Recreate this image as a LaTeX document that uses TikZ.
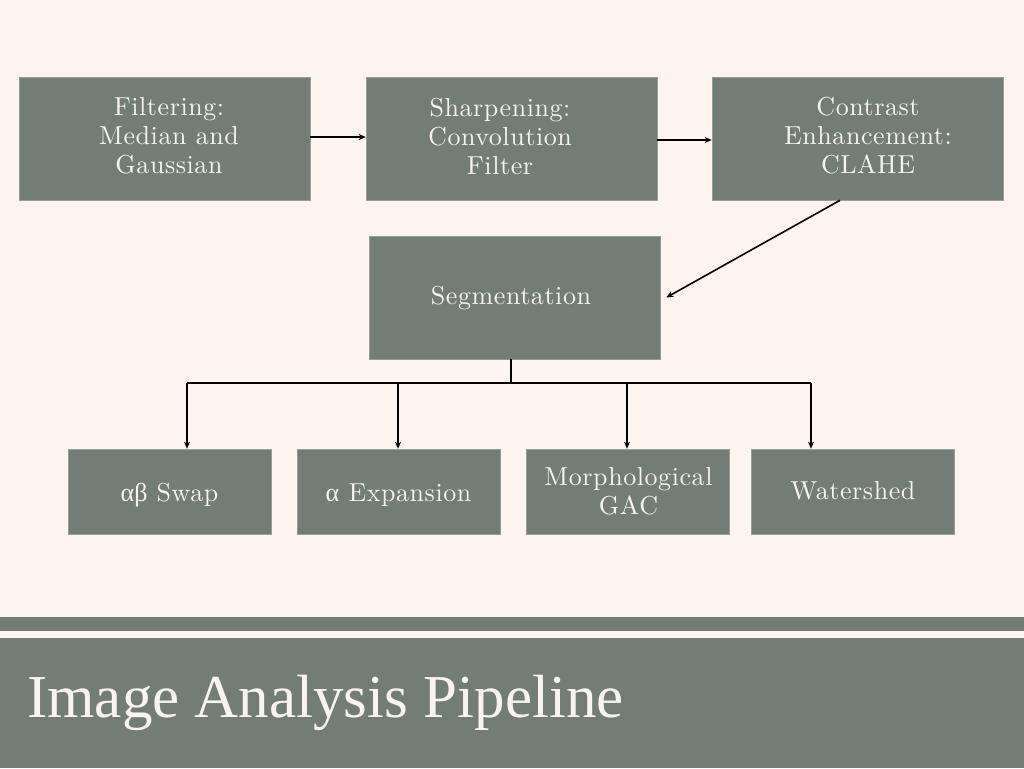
\documentclass[tikz,border=0pt]{standalone}
\usepackage{fontspec}
\newfontfamily\grk{Liberation Serif}
\newfontfamily\titlefont{Liberation Serif}
\newfontfamily\lmspaced{lmroman10-regular.otf}[LetterSpace=2.2]
\usetikzlibrary{arrows.meta}
\definecolor{bg}{RGB}{253,244,240}
\definecolor{boxc}{RGB}{113,125,117}
\definecolor{edgec}{RGB}{150,158,152}
\definecolor{txt}{RGB}{250,243,238}
\newcommand{\boxfont}{\lmspaced\fontsize{26}{29}\selectfont}
\tikzset{
  box/.style={rectangle, fill=boxc, draw=edgec, line width=0.6pt, text=txt, align=center,
    font=\boxfont, inner sep=0pt},
  topbox/.style={box, minimum width=291pt, minimum height=123pt},
  botbox/.style={box, minimum width=203pt, minimum height=85pt},
  lbl/.style={font=\boxfont, text=txt, align=center, inner sep=0pt},
  arr/.style={draw=black, line width=1.6pt, -{Stealth[length=7pt,width=6pt]}},
  ln/.style={draw=black, line width=1.6pt}
}
\begin{document}
\begin{tikzpicture}[x=1pt,y=-1pt]
\fill[bg] (0,0) rectangle (1024,768);
\useasboundingbox (0,0) rectangle (1024,768);
% top row
\node[topbox] (b1) at (164.5,138.5) {};
\node[lbl] (t1) at (169,136) {Filtering:\\Median and\\Gaussian};
\node[topbox] (b2) at (511.5,138.5) {};
\node[lbl] (t2) at (500,136) {Sharpening:\\Convolution\\Filter};
\node[topbox] (b3) at (857.5,138.5) {};
\node[lbl] (t3) at (868,136) {Contrast\\Enhancement:\\CLAHE};
% segmentation
\node[topbox] (seg) at (514.5,297.5) {};
\node[lbl] (tseg) at (511,298) {Segmentation};
% bottom row
\node[botbox] (s1) at (169.5,491.5) {};
\node[lbl] (ts1) at (169.5,495) {{\grk αβ} Swap};
\node[botbox] (s2) at (398.5,491.5) {};
\node[lbl] (ts2) at (398.5,495) {{\grk α} Expansion};
\node[botbox] (s3) at (627.5,491.5) {};
\node[lbl] (ts3) at (628.5,491) {Morphological\\GAC};
\node[botbox] (s4) at (853,491.5) {};
\node[lbl] (ts4) at (853,491) {Watershed};
% connectors
\draw[arr] ([yshift=1.5pt]b1.east) -- ([yshift=1.5pt]b2.west);
\draw[arr] ([yshift=-1.5pt]b2.east) -- ([yshift=-1.5pt]b3.west);
\draw[arr] ([xshift=-17.5pt]b3.south) -- ([xshift=6pt]seg.east);
\coordinate (j) at (511,383);
\coordinate (h1) at (187,383);
\coordinate (h2) at (398,383);
\coordinate (h3) at (627,383);
\coordinate (h4) at (811,383);
\draw[ln] (seg.south -| j) -- (j);
\draw[ln] (h1) -- (h4);
\draw[arr] (h1) -- (h1 |- s1.north);
\draw[arr] (h2) -- (h2 |- s2.north);
\draw[arr] (h3) -- (h3 |- s3.north);
\draw[arr] (h4) -- (h4 |- s4.north);
% bottom bars
\fill[boxc] (0,617) rectangle (1024,631);
\fill[boxc] (0,638) rectangle (1024,768);
\node[anchor=base west, inner sep=0pt, text=txt, font=\titlefont\fontsize{61}{61}\selectfont] (title) at (27,717) {Image Analysis Pipeline};
\end{tikzpicture}
\end{document}
